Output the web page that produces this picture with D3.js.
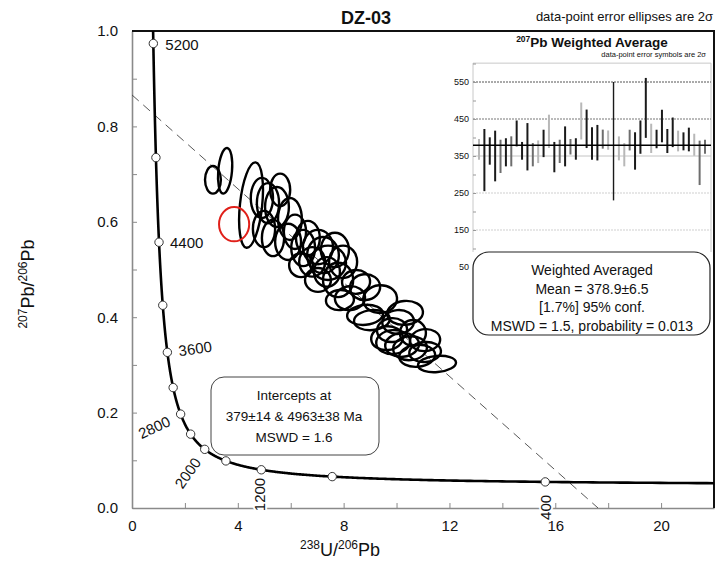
<!DOCTYPE html>
<html>
<head>
<meta charset="utf-8">
<script src="https://cdn.jsdelivr.net/npm/d3@7"></script>
<style>
  body { margin: 0; background: #fff; }
  svg { display: block; }
  text { font-family: "Liberation Sans", Arial, Helvetica, sans-serif; fill: #111; }
</style>
</head>
<body>
<svg id="chart" width="727" height="565"></svg>
<script>
// ---------- data ----------
// Tera-Wasserburg axes
const xTickValues = [0, 4, 8, 12, 16, 20];
const yTickValues = [0, 0.2, 0.4, 0.6, 0.8, 1.0];

// concordia age markers and labelled ages (Ma)
const markerAges = [400, 800, 1200, 1600, 2000, 2400, 2800, 3200, 3600, 4000, 4400, 4800, 5200];
const labelAges = [400, 1200, 2000, 2800, 3600, 4400, 5200];

// analyses: centre (238U/206Pb, 207Pb/206Pb), 2-sigma semi-axes, tilt (deg)
const ellX  = [3.06, 3.52, 4.50, 4.91, 5.14, 5.48, 5.97, 4.99, 5.33, 5.90, 6.47, 6.39, 7.03, 7.22, 7.41,
               7.37, 7.79, 6.81, 7.67, 7.98, 7.03, 8.81, 9.38, 8.81, 9.07, 10.32, 9.64, 9.87, 10.21, 10.51,
               10.78, 10.62, 11.53, 8.24, 6.16, 5.60, 10.06, 11.08, 7.86, 11.08, 6.65, 8.47, 9.83];
const ellY  = [0.688, 0.707, 0.635, 0.650, 0.639, 0.631, 0.606, 0.585, 0.566, 0.558, 0.545, 0.509, 0.547, 0.530, 0.514,
               0.495, 0.478, 0.516, 0.541, 0.516, 0.478, 0.463, 0.438, 0.405, 0.394, 0.409, 0.356, 0.348, 0.342, 0.335,
               0.319, 0.367, 0.302, 0.440, 0.579, 0.667, 0.390, 0.352, 0.436, 0.327, 0.566, 0.474, 0.373];
const ellSx = [0.30, 0.26, 0.42, 0.42, 0.42, 0.45, 0.45, 0.42, 0.42, 0.49, 0.45, 0.45, 0.57, 0.60, 0.68,
               0.49, 0.57, 0.49, 0.53, 0.53, 0.49, 0.57, 0.64, 0.68, 0.68, 0.68, 0.60, 0.64, 0.64, 0.64,
               0.68, 0.49, 0.72, 0.57, 0.42, 0.38, 0.60, 0.57, 0.53, 0.60, 0.45, 0.53, 0.57];
const ellSy = [0.029, 0.048, 0.090, 0.042, 0.042, 0.042, 0.044, 0.038, 0.038, 0.038, 0.038, 0.025, 0.036, 0.038, 0.036,
               0.031, 0.036, 0.031, 0.036, 0.034, 0.025, 0.027, 0.029, 0.021, 0.021, 0.025, 0.025, 0.025, 0.025, 0.025,
               0.023, 0.027, 0.017, 0.025, 0.036, 0.034, 0.025, 0.023, 0.021, 0.021, 0.036, 0.025, 0.025];
const ellRot = [0, 5, 6, 0, 0, 0, 0, 0, 0, 0, 0, 0, 0, 0, 0,
                0, 0, 0, 0, 0, 0, -5, -5, -5, -5, -5, -5, -5, -5, -5,
                -5, 0, -5, -5, 0, 0, -5, -5, -5, -5, 0, -5, -5];

// rejected analysis
const rejX = [3.86];
const rejY = [0.595];
const rejSx = [0.57];
const rejSy = [0.036];

// discordia intercept ages (Ma)
const lowerInterceptAge = 379;
const upperInterceptAge = 4963;
const interceptLines = ["Intercepts at", "379\u00b114  & 4963\u00b138  Ma", "MSWD = 1.6"];

// 207Pb-corrected ages for the weighted mean: centre and 2-sigma half-width (Ma)
const wmCentre = [368, 339, 363.5, 350, 349, 360, 362.6, 411, 364, 375, 353.5, 361.5, 384, 416.7, 347,
                  362.5, 376, 375, 369, 444.6, 423.5, 384, 386, 395.6, 393, 390, 370.6, 353.5, 393, 363.6,
                  401, 480, 397.7, 396, 431, 390.5, 414, 390.5, 389.6, 394.6, 380.5, 331.5, 375];
const wmHalf   = [28, 84, 37, 68.5, 45, 38, 40.6, 35, 24, 64, 31.5, 30.6, 37, 45, 41,
                  31.5, 54, 21, 29, 50, 52, 44, 48, 25.7, 26, 160, 32.4, 31.5, 28, 50.5,
                  45, 81, 39.6, 25, 44, 32.5, 40, 28, 24.3, 32, 29.7, 60, 19];
const wmShade  = ["l", "k", "k", "k", "m", "k", "m", "k", "k", "k", "m", "l", "k", "l", "k",
                  "m", "k", "m", "k", "l", "k", "k", "k", "m", "l", "k", "l", "l", "m", "k",
                  "k", "k", "l", "k", "k", "k", "k", "l", "k", "k", "l", "m", "m"];
const wmMean = 378.9;
const wmLabelTicks = [50, 150, 250, 350, 450, 550];
const wmLines = ["Weighted Averaged", "Mean = 378.9\u00b16.5", "[1.7%]  95% conf.", "MSWD = 1.5, probability = 0.013"];

// ---------- layout ----------
const svg = d3.select("#chart");
const plot = { left: 132, right: 714, top: 31, bottom: 508 };
const x = d3.scaleLinear().domain([0, 22]).range([plot.left, plot.right]);
const y = d3.scaleLinear().domain([0, 1]).range([plot.bottom, plot.top]);

// U-Pb decay system
const L238 = 1.55125e-4, L235 = 9.8485e-4, U85 = 137.88; // per Ma
function tw(t) {
  const e8 = Math.exp(L238 * t) - 1, e5 = Math.exp(L235 * t) - 1;
  return [1 / e8, e5 / (U85 * e8)];
}

svg.append("defs").append("clipPath").attr("id", "plotClip")
  .append("rect").attr("x", plot.left).attr("y", plot.top)
  .attr("width", plot.right - plot.left).attr("height", plot.bottom - plot.top);

// ---------- axes ----------
const gx = svg.append("g").attr("transform", `translate(0,${plot.bottom})`)
  .call(d3.axisBottom(x).tickValues(xTickValues).tickSizeInner(-5).tickSizeOuter(0).tickPadding(12).tickFormat(d3.format("d")));
svg.append("g").attr("transform", `translate(0,${plot.bottom})`)
  .call(d3.axisBottom(x).tickValues(d3.range(2, 22, 4)).tickSizeInner(-5).tickSizeOuter(0).tickFormat(""))
  .call(g => g.select(".domain").remove());
const gy = svg.append("g").attr("transform", `translate(${plot.left},0)`)
  .call(d3.axisLeft(y).tickValues(yTickValues).tickSizeInner(-5).tickSizeOuter(0).tickPadding(14).tickFormat(d3.format(".1f")));
svg.append("g").attr("transform", `translate(${plot.left},0)`)
  .call(d3.axisLeft(y).tickValues([0.1, 0.3, 0.5, 0.7, 0.9]).tickSizeInner(-5).tickSizeOuter(0).tickFormat(""))
  .call(g => g.select(".domain").remove());
svg.selectAll(".domain").attr("stroke", "#8a8a8a").attr("stroke-width", 1.6);
svg.selectAll(".tick line").attr("stroke", "#8a8a8a").attr("stroke-width", 1);
svg.selectAll(".tick text").attr("font-size", 15).attr("fill", "#111")
  .attr("font-family", "'Liberation Sans', Arial, sans-serif");

// frame: top and right
svg.append("path")
  .attr("d", `M${plot.left},${plot.top}H${plot.right}V${plot.bottom}`)
  .attr("fill", "none").attr("stroke", "#111").attr("stroke-width", 2);

// axis titles
const xt = svg.append("text").attr("x", 340).attr("y", 556).attr("text-anchor", "middle").attr("font-size", 18);
xt.append("tspan").attr("font-size", 12).attr("dy", -7).text("238");
xt.append("tspan").attr("dy", 7).text("U/");
xt.append("tspan").attr("font-size", 12).attr("dy", -7).text("206");
xt.append("tspan").attr("dy", 7).text("Pb");

const yt = svg.append("text").attr("transform", "translate(34,284) rotate(-90)")
  .attr("text-anchor", "middle").attr("font-size", 18);
yt.append("tspan").attr("font-size", 12).attr("dy", -7).text("207");
yt.append("tspan").attr("dy", 7).text("Pb/");
yt.append("tspan").attr("font-size", 12).attr("dy", -7).text("206");
yt.append("tspan").attr("dy", 7).text("Pb");

// titles
svg.append("text").attr("x", 366).attr("y", 24).attr("text-anchor", "middle")
  .attr("font-size", 18).attr("font-weight", "bold").text("DZ-03");
svg.append("text").attr("x", 713).attr("y", 21).attr("text-anchor", "end")
  .attr("font-size", 13).text("data-point error ellipses are 2\u03c3");

// ---------- discordia ----------
const lo = tw(lowerInterceptAge), up = tw(upperInterceptAge);
const slope = (lo[1] - up[1]) / (lo[0] - up[0]);
const y0 = up[1] - slope * up[0];
const xInt = -y0 / slope;
svg.append("line").attr("clip-path", "url(#plotClip)")
  .attr("x1", x(0)).attr("y1", y(y0)).attr("x2", x(xInt)).attr("y2", y(0))
  .attr("stroke", "#444").attr("stroke-width", 0.9).attr("stroke-dasharray", "9,6");

// ---------- concordia ----------
const curveAges = d3.range(270, 5400, 5);
svg.append("path").attr("clip-path", "url(#plotClip)")
  .datum(curveAges.map(tw))
  .attr("d", d3.line().x(d => x(d[0])).y(d => y(d[1])))
  .attr("fill", "none").attr("stroke", "#000").attr("stroke-width", 2.6);

svg.append("g").selectAll("circle").data(markerAges).join("circle")
  .attr("cx", t => x(tw(t)[0])).attr("cy", t => y(tw(t)[1])).attr("r", 4.2)
  .attr("fill", "#fff").attr("stroke", "#333").attr("stroke-width", 1);

// label placement per age: offset from marker, rotation, anchor
const labelStyle = {
  5200: { dx: 12, dy: 6, rot: 0, anchor: "start" },
  4400: { dx: 11, dy: 6, rot: 0, anchor: "start" },
  3600: { dx: 12, dy: 4, rot: -8, anchor: "start" },
  2800: { dx: -9, dy: 11, rot: -25, anchor: "end" },
  2000: { dx: -3, dy: 13, rot: -55, anchor: "end" },
  1200: { dx: 4, dy: 8, rot: -90, anchor: "end" },
  400:  { dx: 6, dy: 13, rot: -90, anchor: "end" }
};
svg.append("g").selectAll("text").data(labelAges).join("text")
  .attr("transform", t => {
    const p = tw(t), s = labelStyle[t];
    return `translate(${x(p[0]) + s.dx},${y(p[1]) + s.dy}) rotate(${s.rot})`;
  })
  .attr("text-anchor", t => labelStyle[t].anchor)
  .attr("font-size", 15)
  .attr("stroke", "#fff").attr("stroke-width", 4).attr("paint-order", "stroke")
  .text(t => t);

// ---------- error ellipses ----------
const ellipses = ellX.map((cx, i) => ({ cx, cy: ellY[i], sx: ellSx[i], sy: ellSy[i], rot: ellRot[i] }));
svg.append("g").selectAll("ellipse").data(ellipses).join("ellipse")
  .attr("transform", d => `translate(${x(d.cx)},${y(d.cy)}) rotate(${d.rot})`)
  .attr("rx", d => x(d.sx) - x(0)).attr("ry", d => y(0) - y(d.sy))
  .attr("fill", "none").attr("stroke", "#000").attr("stroke-width", 2.4);

const rejected = rejX.map((cx, i) => ({ cx, cy: rejY[i], sx: rejSx[i], sy: rejSy[i] }));
svg.append("g").selectAll("ellipse").data(rejected).join("ellipse")
  .attr("cx", d => x(d.cx)).attr("cy", d => y(d.cy))
  .attr("rx", d => x(d.sx) - x(0)).attr("ry", d => y(0) - y(d.sy))
  .attr("fill", "none").attr("stroke", "#e0201a").attr("stroke-width", 2);

// ---------- intercepts box ----------
svg.append("rect").attr("x", 211).attr("y", 377).attr("width", 168).attr("height", 78).attr("rx", 13)
  .attr("fill", "#fff").attr("stroke", "#444").attr("stroke-width", 1);
svg.append("g").selectAll("text").data(interceptLines).join("text")
  .attr("x", 294).attr("y", (d, i) => 400 + i * 21).attr("text-anchor", "middle")
  .attr("font-size", 13.5).text(d => d);

// ---------- weighted average inset ----------
const ix = d3.scaleLinear().domain([0, wmCentre.length - 1]).range([479, 705]);
const iy = d3.scaleLinear().domain([50, 550]).range([267, 82]);
const inset = { left: 473, right: 711, top: iy(601), bottom: 252 };

svg.append("text").attr("x", 592).attr("y", 47).attr("text-anchor", "middle")
  .attr("font-size", 13.5).attr("font-weight", "bold")
  .call(t => {
    t.append("tspan").attr("font-size", 8.5).attr("dy", -5).text("207");
    t.append("tspan").attr("dy", 5).text("Pb Weighted Average");
  });
svg.append("text").attr("x", 706).attr("y", 57).attr("text-anchor", "end")
  .attr("font-size", 7.5).attr("fill", "#333").text("data-point error symbols are 2\u03c3");

svg.append("path")
  .attr("d", `M${inset.left},${inset.bottom}V${inset.top}H${inset.right}V${inset.bottom}`)
  .attr("fill", "none").attr("stroke", "#c8c8c8").attr("stroke-width", 1);

// grid lines
const gridStyle = {
  550: { stroke: "#555", dash: "2,1" },
  450: { stroke: "#777", dash: "2,1" },
  350: { stroke: "#c4c4c4", dash: null },
  250: { stroke: "#cfcfcf", dash: "2,1" },
  150: { stroke: "#cfcfcf", dash: "2,1" }
};
svg.append("g").selectAll("line").data([550, 450, 350, 250, 150]).join("line")
  .attr("x1", inset.left).attr("x2", inset.right)
  .attr("y1", d => iy(d)).attr("y2", d => iy(d))
  .attr("stroke", d => gridStyle[d].stroke).attr("stroke-width", 1)
  .attr("stroke-dasharray", d => gridStyle[d].dash);

const giy = svg.append("g").attr("transform", `translate(${inset.left},0)`)
  .call(d3.axisLeft(iy).tickValues(d3.range(50, 601, 50)).tickSizeInner(-3).tickSizeOuter(0).tickPadding(4)
    .tickFormat(d => wmLabelTicks.includes(d) ? d : ""));
giy.select(".domain").remove();
giy.selectAll(".tick line").attr("stroke", "#999");
giy.selectAll(".tick text").attr("font-size", 9).attr("fill", "#333")
  .attr("font-family", "'Liberation Sans', Arial, sans-serif");

// error bars
const shadeColour = { k: "#1a1a1a", m: "#6e6e6e", l: "#b8b8b8" };
svg.append("g").selectAll("line").data(wmCentre).join("line")
  .attr("x1", (d, i) => ix(i)).attr("x2", (d, i) => ix(i))
  .attr("y1", (d, i) => iy(d + wmHalf[i])).attr("y2", (d, i) => iy(d - wmHalf[i]))
  .attr("stroke", (d, i) => shadeColour[wmShade[i]])
  .attr("stroke-width", (d, i) => wmHalf[i] > 100 ? 1.4 : 2);

// mean line
svg.append("line").attr("x1", inset.left).attr("x2", inset.right)
  .attr("y1", iy(wmMean)).attr("y2", iy(wmMean))
  .attr("stroke", "#000").attr("stroke-width", 1.5);

// summary box
svg.append("rect").attr("x", 473).attr("y", 252).attr("width", 237).attr("height", 83).attr("rx", 16)
  .attr("fill", "#fff").attr("stroke", "#222").attr("stroke-width", 1.2);
svg.append("g").selectAll("text").data(wmLines).join("text")
  .attr("x", 592).attr("y", (d, i) => 275 + i * 18.5).attr("text-anchor", "middle")
  .attr("font-size", 14).text(d => d);
</script>
</body>
</html>
